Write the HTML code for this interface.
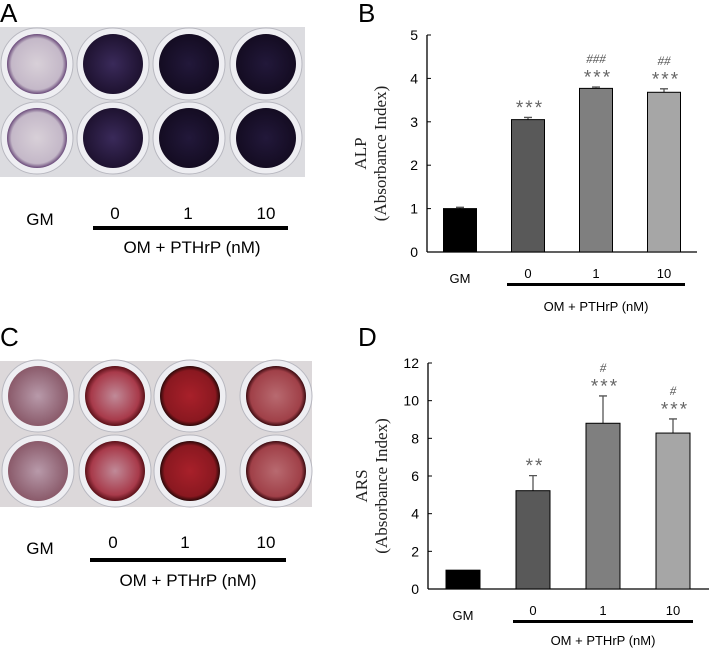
<!DOCTYPE html>
<html><head><meta charset="utf-8"><style>
html,body{margin:0;padding:0;background:#fff;}
svg{display:block;font-family:"Liberation Sans",sans-serif;}
</style></head><body>
<svg id="fig" width="709" height="648" viewBox="0 0 709 648">
<defs>
<radialGradient id="wA0" cx="50%" cy="50%" r="50%"><stop offset="0" stop-color="#d8d0d8"/><stop offset="0.85" stop-color="#c4b8c8"/><stop offset="1" stop-color="#6a4a7a"/></radialGradient>
<radialGradient id="wA1" cx="50%" cy="50%" r="50%"><stop offset="0" stop-color="#3a2a5a"/><stop offset="1" stop-color="#1e1230"/></radialGradient>
<radialGradient id="wA2" cx="50%" cy="50%" r="50%"><stop offset="0" stop-color="#22183a"/><stop offset="1" stop-color="#140c22"/></radialGradient>
<radialGradient id="wC0" cx="50%" cy="50%" r="50%"><stop offset="0" stop-color="#b89aaa"/><stop offset="1" stop-color="#8a5a6a"/></radialGradient>
<radialGradient id="wC1" cx="50%" cy="50%" r="50%"><stop offset="0" stop-color="#c08a98"/><stop offset="0.8" stop-color="#a83a4a"/><stop offset="1" stop-color="#5a1018"/></radialGradient>
<radialGradient id="wC2" cx="50%" cy="50%" r="50%"><stop offset="0" stop-color="#a8202a"/><stop offset="0.85" stop-color="#8a1820"/><stop offset="1" stop-color="#2a0808"/></radialGradient>
<radialGradient id="wC3" cx="50%" cy="50%" r="50%"><stop offset="0" stop-color="#b86a70"/><stop offset="0.85" stop-color="#a04048"/><stop offset="1" stop-color="#3a0a10"/></radialGradient>
</defs>

<!-- Panel A -->
<text x="0" y="22" font-size="26">A</text>
<g>
<rect x="0" y="27" width="305" height="150" fill="#dcdce0"/>
<g id="plateA"></g>
</g>
<text x="40" y="225" font-size="17" text-anchor="middle">GM</text>
<text x="115" y="219" font-size="17" text-anchor="middle">0</text>
<text x="188" y="219" font-size="17" text-anchor="middle">1</text>
<text x="266" y="219" font-size="17" text-anchor="middle">10</text>
<rect x="93" y="226" width="195" height="4" fill="#000"/>
<text x="192" y="253" font-size="17" text-anchor="middle">OM + PTHrP (nM)</text>

<!-- Panel C -->
<text x="0" y="346" font-size="26">C</text>
<g>
<rect x="0" y="361" width="312" height="146" fill="#dcd8da"/>
<g id="plateC"></g>
</g>
<text x="40" y="554" font-size="17" text-anchor="middle">GM</text>
<text x="113" y="548" font-size="17" text-anchor="middle">0</text>
<text x="185" y="548" font-size="17" text-anchor="middle">1</text>
<text x="266" y="548" font-size="17" text-anchor="middle">10</text>
<rect x="90" y="558" width="196" height="4" fill="#000"/>
<text x="188" y="586" font-size="17" text-anchor="middle">OM + PTHrP (nM)</text>

<!-- Panel B -->
<text x="358" y="22" font-size="26">B</text>
<g id="chartB"></g>
<!-- Panel D -->
<text x="358" y="346" font-size="26">D</text>
<g id="chartD"></g>
</svg>
<script>
// ---- Chart data ----
const categories = ["GM", "0", "1", "10"];
const alpValues = [1.0, 3.05, 3.77, 3.68];
const alpErrors = [0.03, 0.05, 0.03, 0.08];
const alpSig = ["", "***", "***", "***"];
const alpHash = ["", "", "###", "##"];
const alpTicks = [0, 1, 2, 3, 4, 5];
const arsValues = [1.0, 5.22, 8.8, 8.28];
const arsErrors = [0.0, 0.8, 1.45, 0.75];
const arsSig = ["", "**", "***", "***"];
const arsHash = ["", "", "#", "#"];
const arsTicks = [0, 2, 4, 6, 8, 10, 12];

const NS = "http://www.w3.org/2000/svg";
function mk(tag, attrs, parent, text) {
  const e = document.createElementNS(NS, tag);
  for (const k in attrs) e.setAttribute(k, attrs[k]);
  if (text !== undefined) e.textContent = text;
  parent.appendChild(e);
  return e;
}
const barFills = ["#000000", "#595959", "#7f7f7f", "#a6a6a6"];

function drawChart(g, cfg) {
  const yScale = v => cfg.y0 - (v / cfg.max) * (cfg.y0 - cfg.yTop);
  const xCenter = i => cfg.xFirst + i * cfg.step;
  let el = mk("line", {x1: cfg.xAxis, y1: cfg.yTop, x2: cfg.xAxis, y2: cfg.y0, stroke: "#000", "stroke-width": 1.3}, g);
  
  
  el = mk("line", {x1: cfg.xAxis, y1: cfg.y0, x2: cfg.xEnd, y2: cfg.y0, stroke: "#000", "stroke-width": 1.3}, g);
  
  
  cfg.ticks.forEach(t => {
    const y = yScale(t);
    const tk = mk("line", {x1: cfg.xAxis, y1: y, x2: cfg.xAxis + 4, y2: y, stroke: "#000", "stroke-width": 1}, g);
    
    
    const tl = mk("text", {x: cfg.xAxis - 9, y: y + 5, "font-size": 14, "text-anchor": "end"}, g, String(t));
    
    
  });
  cfg.values.forEach((v, i) => {
    const cx = xCenter(i), w = cfg.barW;
    const top = yScale(v);
    const err = yScale(v + cfg.errors[i]);
    if (cfg.errors[i] > 0) {
      const eb = mk("path", {d: `M${cx} ${top}V${err}M${cx - 4} ${err}H${cx + 4}`, stroke: "#555", "stroke-width": 1.3, fill: "none"}, g);
      
      
    }
    const b = mk("rect", {x: cx - w / 2, y: top, width: w, height: cfg.y0 - top, fill: barFills[i], stroke: "#000", "stroke-width": 1}, g);
    
    
    if (cfg.sig[i]) {
      const s = mk("text", {x: cx, y: err - 3, "font-size": 19, "text-anchor": "middle", fill: "#666", "font-family": "Liberation Mono, monospace", "letter-spacing": "-2"}, g, cfg.sig[i]);
      
      
    }
    if (cfg.hash[i]) {
      const h = mk("text", {x: cx, y: err - 24, "font-size": 13, "text-anchor": "middle", fill: "#555", "font-family": "Liberation Serif, serif", "font-style": "italic"}, g, cfg.hash[i]);
      
      
    }
    const lab = mk("text", {x: cx, y: cfg.y0 + (i === 0 ? 31 : 26), "font-size": 13, "text-anchor": "middle"}, g, categories[i]);
    
    
  });
  el = mk("rect", {x: cfg.lineX1, y: cfg.y0 + 31, width: cfg.lineX2 - cfg.lineX1, height: 3, fill: "#000"}, g);
  
  
  el = mk("text", {x: (cfg.lineX1 + cfg.lineX2) / 2, y: cfg.y0 + cfg.groupOff, "font-size": 13, "text-anchor": "middle"}, g, "OM + PTHrP (nM)");
  
  
  const yl = mk("text", {transform: `translate(${cfg.xAxis - 52},${(cfg.yTop + cfg.y0) / 2 + 10}) rotate(-90)`, "font-size": 17, "text-anchor": "middle", "font-family": "Liberation Serif, serif", fill: "#222"}, g);
  
  
  mk("tspan", {x: 0, dy: -9}, yl, cfg.title);
  mk("tspan", {x: 0, dy: 20}, yl, "(Absorbance Index)");
}

drawChart(document.getElementById("chartB"), {
  values: alpValues, errors: alpErrors, sig: alpSig, hash: alpHash, ticks: alpTicks, max: 5,
  y0: 252, yTop: 35, xAxis: 427, xEnd: 697, xFirst: 460, step: 68, barW: 33,
  lineX1: 507, lineX2: 685, title: "ALP", groupOff: 59
});
drawChart(document.getElementById("chartD"), {
  values: arsValues, errors: arsErrors, sig: arsSig, hash: arsHash, ticks: arsTicks, max: 12,
  y0: 589, yTop: 363, xAxis: 428, xEnd: 709, xFirst: 463, step: 70, barW: 34,
  lineX1: 513, lineX2: 693, title: "ARS", groupOff: 56
});

function plate(id, xs, ys, r, fills) {
  const g = document.getElementById(id);
  ys.forEach((y, ri) => xs.forEach((x, ci) => {
    const rim = mk("circle", {cx: x, cy: y, r: r + 6, fill: "#eeeef2", stroke: "#b8b8c0", "stroke-width": 1}, g);
    
    
    const w = mk("circle", {cx: x, cy: y, r: r, fill: fills[ci]}, g);
    
    
  }));
}
plate("plateA", [37, 113, 189, 266], [64, 138], 30, ["url(#wA0)", "url(#wA1)", "url(#wA2)", "url(#wA2)"]);
plate("plateC", [38, 115, 190, 276], [396, 471], 30, ["url(#wC0)", "url(#wC1)", "url(#wC2)", "url(#wC3)"]);
</script>
</body></html>
